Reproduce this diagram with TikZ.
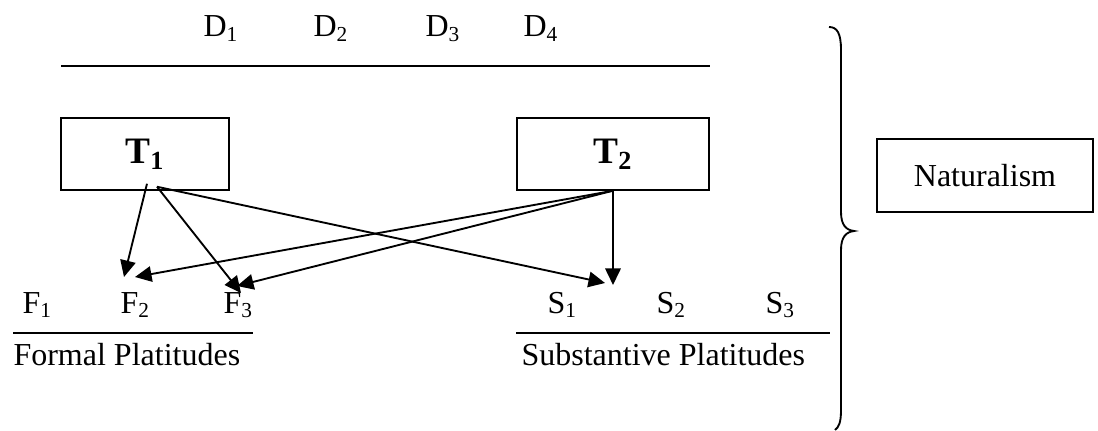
\documentclass[tikz,border=0pt]{standalone}
\usepackage{fontspec}
\setmainfont{Liberation Serif}
\usetikzlibrary{arrows.meta}

\tikzset{
  box/.style={draw, line width=0.55pt, inner sep=0pt},
  lbl/.style={anchor=base west, inner sep=0pt, font=\fontsize{12}{14}\selectfont},
  arr/.style={line width=0.7pt, -{Triangle[length=6.2pt,width=5.8pt]}}
}

\begin{document}
\begin{tikzpicture}[x=0.375pt, y=-0.375pt]
    \useasboundingbox (0,0) rectangle (1098,431);

    % Top row of D's
    \node[lbl] (D1) at (203,37) {D\textsubscript{1}};
    \node[lbl] (D2) at (313,37) {D\textsubscript{2}};
    \node[lbl] (D3) at (425,37) {D\textsubscript{3}};
    \node[lbl] (D4) at (523,37) {D\textsubscript{4}};
    \draw[line width=0.55pt] (61,66) -- (710,66);

    % Theories
    \node[box, minimum width=63pt, minimum height=27pt,
          font=\fontsize{14}{16}\selectfont\bfseries] (T1) at (145,154) {T\textsubscript{1}};
    \node[box, minimum width=72pt, minimum height=27pt,
          font=\fontsize{14}{16}\selectfont\bfseries] (T2) at (613,154) {T\textsubscript{2}};

    % Platitudes
    \node[lbl] (F1) at (22,313) {F\textsubscript{1}};
    \node[lbl] (F2) at (120,313) {F\textsubscript{2}};
    \node[lbl] (F3) at (223,313) {F\textsubscript{3}};
    \node[lbl] (S1) at (547,313) {S\textsubscript{1}};
    \node[lbl] (S2) at (656,313) {S\textsubscript{2}};
    \node[lbl] (S3) at (765,313) {S\textsubscript{3}};

    \draw[line width=0.55pt] (13,333) -- (253,333);
    \draw[line width=0.55pt] (516,333) -- (830,333);
    \node[lbl] (formal) at (13,365) {Formal Platitudes};
    \node[lbl] (subst) at (521,365) {Substantive Platitudes};

    % Arrows
    \coordinate (t1a) at ([shift={(2,-7)}]T1.south);
    \coordinate (t1b) at ([shift={(12,-4)}]T1.south);
    \draw[arr] (t1a) -- ([shift={(4,-36)}]F2.base west);
    \draw[arr] (t1b) -- ([shift={(18,-20)}]F3.base west);
    \draw[arr] (t1b) -- ([shift={(58,-30)}]S1.base west);
    \draw[arr] (T2.south) -- ([shift={(15,-36)}]F2.base west);
    \draw[arr] (T2.south) -- ([shift={(14,-27)}]F3.base west);
    \draw[arr] (T2.south) -- ([shift={(66,-28)}]S1.base west);

    % Brace
    \draw[line width=0.7pt] (829,27) .. controls (837,27) and (841,33) .. (841,50)
        -- (841,212) .. controls (841,225) and (846,230) .. (854,231)
        .. controls (846,232) and (841,237) .. (841,250)
        -- (841,410) .. controls (841,422) and (839,427) .. (835,430);

    \node[box, minimum width=81pt, minimum height=27.4pt,
          font=\fontsize{12}{14}\selectfont] (nat) at (985,175.5) {Naturalism};
\end{tikzpicture}
\end{document}
